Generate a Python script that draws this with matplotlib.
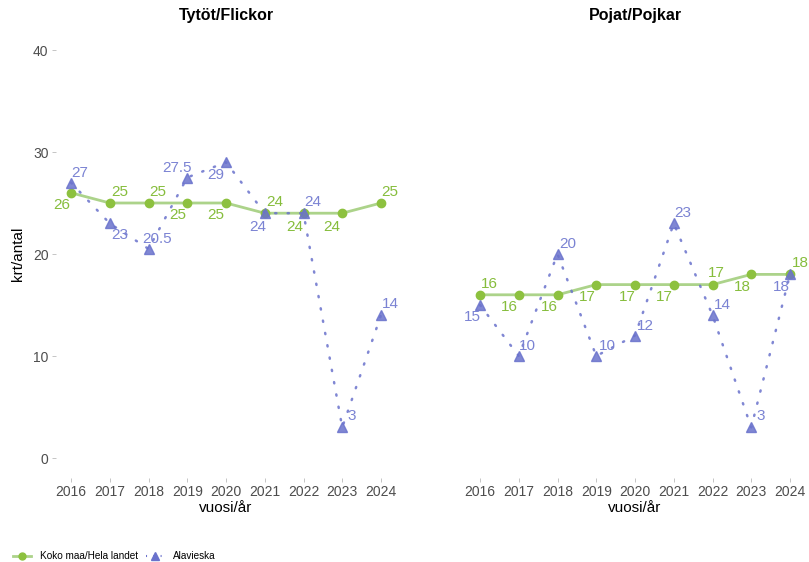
import matplotlib
matplotlib.use("Agg")
import matplotlib.pyplot as plt
from matplotlib.lines import Line2D

plt.rcParams["font.family"] = ["Liberation Sans", "DejaVu Sans"]

years = [2016, 2017, 2018, 2019, 2020, 2021, 2022, 2023, 2024]
girls_country = [26, 25, 25, 25, 25, 24, 24, 24, 25]
girls_local = [27, 23, 20.5, 27.5, 29, 24, 24, 3, 14]
boys_country = [16, 16, 16, 17, 17, 17, 17, 18, 18]
boys_local = [15, 10, 20, 10, 12, 23, 14, 3, 18]
panel_titles = ["Tytöt/Flickor", "Pojat/Pojkar"]
series_names = ["Koko maa/Hela landet", "Alavieska"]
y_ticks = [0, 10, 20, 30, 40]

# label offsets in pixels (dx, dy up positive)
off_gc = [(-9, -12), (10, 11), (9, 11), (-10, -12), (-10, -12), (10, 11), (-9, -14), (-10, -14), (9, 11)]
off_gl = [(9, 10), (10, -12), (9, 10), (-10, 10), (-10, -13), (-7, -14), (9, 11), (9, 11), (9, 11)]
off_bc = [(9, 11), (-9, -12), (-8, -12), (-9, -12), (-8, -12), (-9, -12), (4, 12), (-9, -13), (10, 11)]
off_bl = [(-8, -12), (9, 10), (10, 10), (11, 10), (10, 10), (9, 10), (10, 10), (9, 11), (-9, -13)]

GREEN = "#8dc13f"
GREEN_LINE = "#acd38a"
GREEN_TXT = "#86bd3c"
BLUE = "#6a72cc"
BLUE_TXT = "#7b83d3"

fig = plt.figure(figsize=(8.09, 5.62), dpi=100)
W, H = 809, 562
panels = [(55.5, 396.5), (464.5, 805.5)]
top, bottom = 29.6, 478.4

data = [(girls_country, girls_local, off_gc, off_gl), (boys_country, boys_local, off_bc, off_bl)]
axes = []
for i, ((l, r), (c, loc, oc, ol)) in enumerate(zip(panels, data)):
    ax = fig.add_axes([l / W, 1 - bottom / H, (r - l) / W, (bottom - top) / H])
    axes.append(ax)
    ax.set_xlim(2015.6, 2024.4)
    ax.set_ylim(-2, 42)
    for s in ax.spines.values():
        s.set_visible(False)
    ax.set_xticks(years)
    ax.set_xticklabels([str(y) for y in years])
    ax.set_yticks(y_ticks)
    ax.tick_params(axis="both", colors="#4d4d4d", labelsize=10, length=3, width=0.6,
                   color="#bbbbbb", pad=2)
    if i == 1:
        ax.tick_params(axis="y", labelleft=False, length=0)
    ax.plot(years, c, color=GREEN_LINE, lw=2, zorder=2)
    ax.plot(years, c, "o", color=GREEN, ms=6, zorder=3, ls="none")
    ax.plot(years, loc, color=BLUE, lw=1.8, ls=(0, (0.5, 4.5)), dash_capstyle="round", zorder=4, alpha=0.85)
    ax.plot(years, loc, "^", color=BLUE, ms=7.5, alpha=0.85, zorder=5, ls="none")
    for x, v, (dx, dy) in zip(years, c, oc):
        ax.annotate(str(v), (x, v), xytext=(dx * 0.72, dy * 0.72), textcoords="offset points",
                    ha="center", va="center", color=GREEN_TXT, fontsize=11, zorder=6)
    for x, v, (dx, dy) in zip(years, loc, ol):
        ax.annotate(str(v), (x, v), xytext=(dx * 0.72, dy * 0.72), textcoords="offset points",
                    ha="center", va="center", color=BLUE_TXT, fontsize=11, zorder=6)
    ax.set_title(panel_titles[i], fontsize=11.5, fontweight="bold", pad=7)
    ax.set_xlabel("vuosi/år", fontsize=11, labelpad=1)

axes[0].set_ylabel("krt/antal", fontsize=11, labelpad=6)

h1 = Line2D([], [], color=GREEN_LINE, lw=2, marker="o", markerfacecolor=GREEN, markeredgecolor=GREEN, ms=5)
h2 = Line2D([], [], color=BLUE, lw=1.5, ls=(0, (0.5, 3)), marker="^", markerfacecolor=BLUE, markeredgecolor=BLUE, ms=6)
fig.legend([h1, h2], series_names, loc="center left", bbox_to_anchor=(0.005, 1 - 556 / H),
           ncol=2, frameon=False, fontsize=7.2, handlelength=1.8, columnspacing=0.8, handletextpad=0.9)

fig.savefig("out.png", dpi=100)
